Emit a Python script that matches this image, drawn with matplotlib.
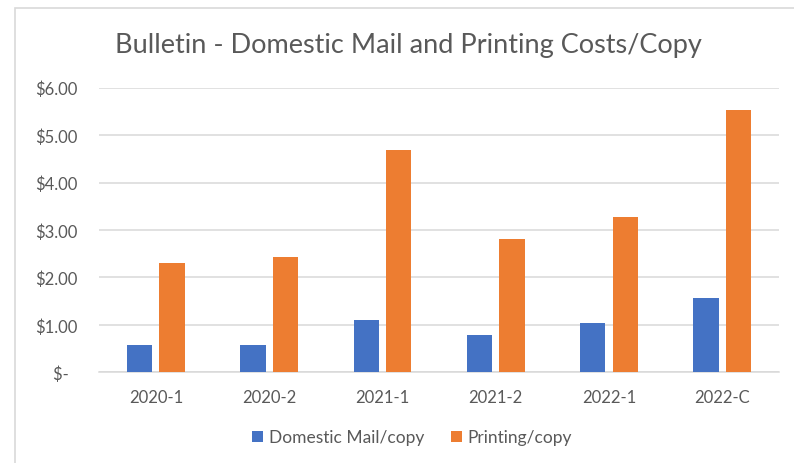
import numpy as np
import matplotlib.pyplot as plt
from matplotlib.patches import Rectangle

periods = ['2020-1', '2020-2', '2021-1', '2021-2', '2022-1', '2022-C']
mail = [0.58, 0.58, 1.10, 0.79, 1.04, 1.57]
printing = [2.30, 2.43, 4.68, 2.81, 3.27, 5.53]
yticks = [0, 1, 2, 3, 4, 5, 6]
ylabels = ['$-  ', '$1.00', '$2.00', '$3.00', '$4.00', '$5.00', '$6.00']

plt.rcParams['font.family'] = ['Lato', 'DejaVu Sans']
grey = '#595959'

fig = plt.figure(figsize=(7.94, 4.64), dpi=100)
ax = fig.add_axes([0.125, 0.1955, 0.856, 0.6133])

# chart border (Excel chart area)
fig.patches.append(Rectangle((15/794, -0.05), 1.1, 1 - 9/464 + 0.05, transform=fig.transFigure,
                             fill=False, edgecolor='#d9d9d9', linewidth=1.2))

x = np.arange(len(periods))
w = 0.223
ax.bar(x - 0.143, mail, w, color='#4472C4', label='Domestic Mail/copy', zorder=3)
ax.bar(x + 0.143, printing, w, color='#ED7D31', label='Printing/copy', zorder=3)

ax.set_xlim(-0.5, len(periods) - 0.5)
ax.set_ylim(0, 6)
ax.set_yticks(yticks)
ax.set_yticklabels(ylabels)
ax.set_xticks(x)
ax.set_xticklabels(periods)
ax.grid(axis='y', color='#d9d9d9', linewidth=1.1, zorder=0)
for s in ['top', 'right', 'left']:
    ax.spines[s].set_visible(False)
ax.spines['bottom'].set_color('#d9d9d9')
ax.spines['bottom'].set_linewidth(1.1)
ax.tick_params(axis='both', length=0, labelsize=12, colors=grey)
ax.tick_params(axis='y', pad=16)
ax.tick_params(axis='x', pad=12)

fig.text(0.515, 0.902, 'Bulletin - Domestic Mail and Printing Costs/Copy', ha='center', va='center',
         fontsize=19.5, color=grey)

leg = fig.legend(loc='center', bbox_to_anchor=(0.519, 0.055), ncol=2, frameon=False, fontsize=12.5,
                 handlelength=0.65, handleheight=0.65, handletextpad=0.3, columnspacing=1.55)
for t in leg.get_texts():
    t.set_color(grey)

fig.savefig('out.png', dpi=100)
